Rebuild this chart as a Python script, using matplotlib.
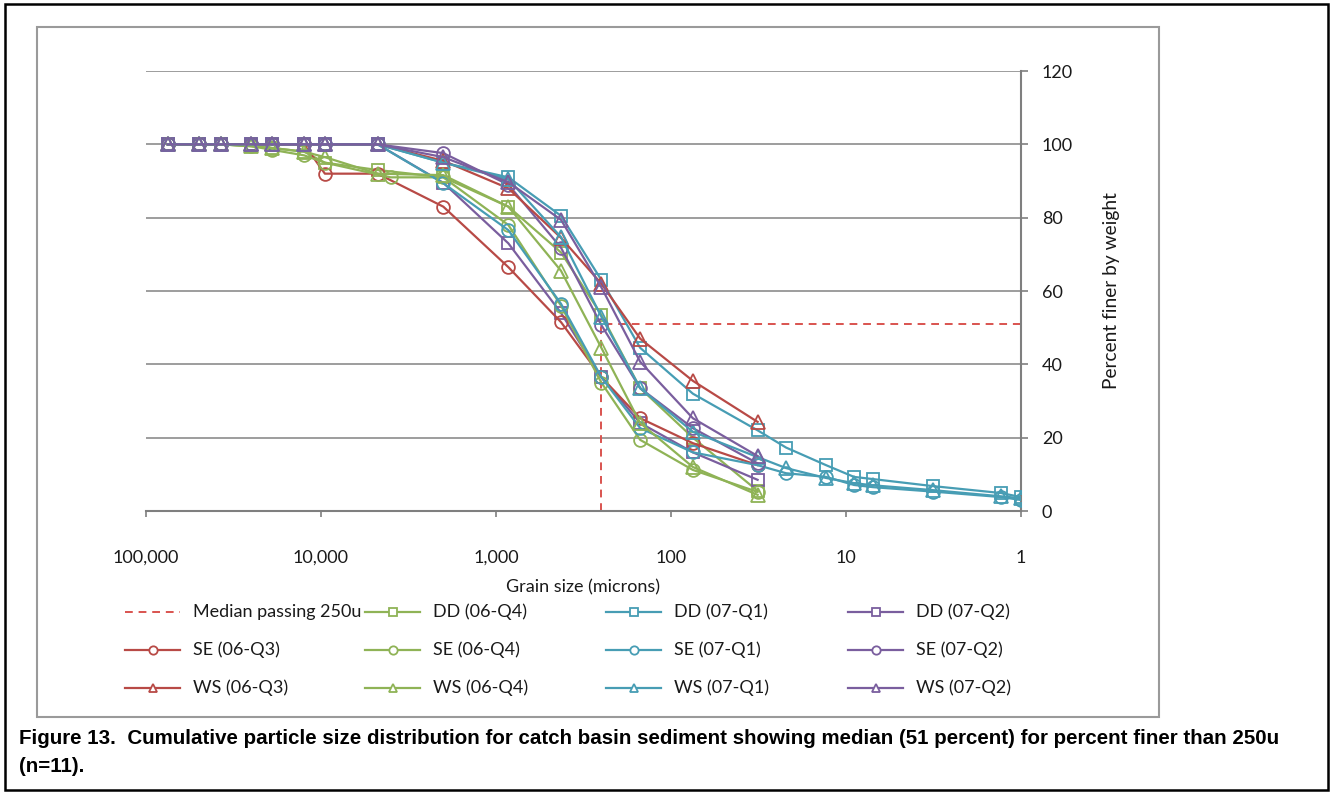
import matplotlib
matplotlib.use("Agg")
import matplotlib.pyplot as plt
from matplotlib.lines import Line2D
from matplotlib.patches import Rectangle
import matplotlib.ticker as ticker

plt.rcParams["font.family"] = ["Lato", "DejaVu Sans"]

W, H = 1334, 793

# ──────────────────────────────────────────────
# data (grain size in microns, percent finer by weight)
# ──────────────────────────────────────────────
SIEVE = [75000, 50000, 37500, 25000, 19000, 12500, 9500, 4750, 2000, 850, 425, 250, 150, 75, 32]
SIEVE_SE_06Q4 = [75000, 50000, 37500, 25000, 19000, 12500, 9500, 4000, 2000, 850, 425, 250, 150, 75, 32]
HYDRO = [22, 13, 9, 7, 3.2, 1.3, 1.0]

DD_06Q4 = [100, 100, 100, 99.5, 99, 98, 95, 93, 91, 83, 70.5, 53.5, 33.5, 20, 5.5]
DD_07Q1 = [100, 100, 100, 100, 100, 100, 100, 100, 95, 91, 80.5, 63, 44.5, 32, 22,
           17.3, 12.5, 9.3, 8.7, 6.8, 4.9, 3.8]
DD_07Q2 = [100, 100, 100, 100, 100, 100, 100, 100, 89.5, 73, 54, 36.5, 24, 16, 8.5]

SE_06Q3 = [100, 100, 100, 100, 100, 100, 92, 92, 83, 66.5, 51.5, 36.5, 25.3, 18.5, 12.5]
SE_06Q4 = [100, 100, 100, 99.5, 98.5, 97, 95, 91, 91, 78, 56, 35, 19.4, 11.2, 5.2]
SE_07Q1 = [100, 100, 100, 100, 100, 100, 100, 100, 89.4, 76.6, 56.5, 36.5, 22.6, 16, 12.5,
           10.3, 9.3, 7.1, 6.5, 5.3, 3.8, 3.0]
SE_07Q2 = [100, 100, 100, 100, 100, 100, 100, 100, 97.6, 89, 71.8, 50.7, 33.5, 22.6, 13]

WS_06Q3 = [100, 100, 100, 100, 100, 100, 100, 100, 95.5, 88, 74.5, 62, 47, 35.5, 24.3]
WS_06Q4 = [100, 100, 100, 99.5, 99, 98, 96.5, 92, 91.6, 83, 65.5, 44.5, 24, 12, 4.4]
WS_07Q1 = [100, 100, 100, 100, 100, 100, 100, 100, 95, 90.5, 74.7, 53, 33.5, 21.6, 14.7,
           11.7, 9.0, 7.6, 7.0, 5.7, 4.0, 3.5]
WS_07Q2 = [100, 100, 100, 100, 100, 100, 100, 100, 96.5, 89.7, 79.4, 61, 40.7, 25.3, 15]

MEDIAN_SIZE = 250
MEDIAN_PCT = 51

X_TICKS = [100000, 10000, 1000, 100, 10, 1]
X_TICK_LABELS = ["100,000", "10,000", "1,000", "100", "10", "1"]
Y_TICKS = [0, 20, 40, 60, 80, 100, 120]

# Excel 2007 style colours
RED = "#B84A46"
GREEN = "#8FB356"
TEAL = "#479DB4"
PURPLE = "#7A5E9E"
TEXT = "#1a1a1a"
GRID = "#8c8c8c"

SERIES = [
    ("DD (06-Q4)", SIEVE, DD_06Q4, GREEN, "s"),
    ("DD (07-Q1)", SIEVE + HYDRO, DD_07Q1, TEAL, "s"),
    ("DD (07-Q2)", SIEVE, DD_07Q2, PURPLE, "s"),
    ("SE (06-Q3)", SIEVE, SE_06Q3, RED, "o"),
    ("SE (06-Q4)", SIEVE_SE_06Q4, SE_06Q4, GREEN, "o"),
    ("SE (07-Q1)", SIEVE + HYDRO, SE_07Q1, TEAL, "o"),
    ("SE (07-Q2)", SIEVE, SE_07Q2, PURPLE, "o"),
    ("WS (06-Q3)", SIEVE, WS_06Q3, RED, "^"),
    ("WS (06-Q4)", SIEVE, WS_06Q4, GREEN, "^"),
    ("WS (07-Q1)", SIEVE + HYDRO, WS_07Q1, TEAL, "^"),
    ("WS (07-Q2)", SIEVE, WS_07Q2, PURPLE, "^"),
]
MARKER_SIZE = {"s": 8.5, "o": 9.2, "^": 9.5}


def fx(px):
    return px / W


def fy(py):
    return 1 - py / H


fig = plt.figure(figsize=(W / 100, H / 100), dpi=100, facecolor="white")
ax = fig.add_axes([fx(146), fy(511), fx(1021) - fx(146), fy(71) - fy(511)])

# median line (vertical to the curve, then across to the right edge)
ax.plot([MEDIAN_SIZE, MEDIAN_SIZE, X_TICKS[-1]], [0, MEDIAN_PCT, MEDIAN_PCT],
        color="#D9534F", lw=1.4, ls=(0, (4, 3)), zorder=2)

for label, xs, ys, color, mk in SERIES:
    ax.plot(xs, ys, color=color, lw=1.6, marker=mk, ms=MARKER_SIZE[mk],
            markerfacecolor="none", markeredgecolor=color, markeredgewidth=1.3, zorder=3)

ax.set_xscale("log")
ax.set_xlim(100000, 1)
ax.set_ylim(0, 120)
ax.xaxis.set_major_locator(ticker.FixedLocator(X_TICKS))
ax.xaxis.set_major_formatter(ticker.FixedFormatter(X_TICK_LABELS))
ax.xaxis.set_minor_locator(ticker.NullLocator())
ax.set_yticks(Y_TICKS)

ax.yaxis.tick_right()
ax.yaxis.set_label_position("right")
ax.grid(axis="y", color=GRID, lw=1.2, zorder=0)
ax.set_axisbelow(True)

for side in ("left", "top"):
    ax.spines[side].set_visible(False)
ax.spines["right"].set_color("#7f7f7f")
ax.spines["right"].set_linewidth(1.5)
ax.spines["bottom"].set_color("#7f7f7f")
ax.spines["bottom"].set_linewidth(1.5)

ax.tick_params(axis="x", direction="out", length=4, width=1.2, color="#7f7f7f",
               pad=24, labelsize=13, labelcolor=TEXT)
ax.tick_params(axis="y", direction="out", length=5, width=1.2, color="#7f7f7f",
               pad=10, labelsize=13, labelcolor=TEXT)

ax.set_xlabel("Grain size (microns)", fontsize=13, color=TEXT)
ax.xaxis.set_label_coords(0.5, -0.155)
ax.set_ylabel("Percent finer by weight", fontsize=13.8, color=TEXT, rotation=90)
ax.yaxis.set_label_coords(1.094, 0.5)

# legend, laid out like the Excel one (fixed column slots, row-wise order)
legend_entries = [("Median passing 250u", None, "#D9534F", None)] + \
    [(lbl, None, c, m) for lbl, _, _, c, m in SERIES]
col_x = [125, 365, 606, 848]
row_y = [612, 650, 688]
for i, (lbl, _, color, mk) in enumerate(legend_entries):
    r, c = divmod(i, 4)
    x0, y0 = col_x[c], row_y[r]
    if mk is None:
        fig.add_artist(Line2D([fx(x0), fx(x0 + 55)], [fy(y0), fy(y0)],
                              color=color, lw=1.4, ls=(0, (4, 3))))
    else:
        fig.add_artist(Line2D([fx(x0), fx(x0 + 55)], [fy(y0), fy(y0)],
                              color=color, lw=1.6))
        fig.add_artist(Line2D([fx(x0 + 27.5)], [fy(y0)], color=color, marker=mk,
                              ms=6, markerfacecolor="white", markeredgecolor=color,
                              markeredgewidth=1.3))
    fig.text(fx(x0 + 68), fy(y0), lbl, fontsize=13, color=TEXT, va="center", ha="left")

# chart area frame and page frame
fig.add_artist(Rectangle((fx(37), fy(717)), fx(1159) - fx(37), fy(27) - fy(717),
                         transform=fig.transFigure, fill=False, ec="#9a9a9a", lw=1.5))
fig.add_artist(Rectangle((fx(5), fy(790)), fx(1328) - fx(5), fy(4) - fy(790),
                         transform=fig.transFigure, fill=False, ec="black", lw=1.8))

caption = ("Figure 13.  Cumulative particle size distribution for catch basin sediment "
           "showing median (51 percent) for percent finer than 250u")
fig.text(fx(19), fy(738), caption, fontsize=14.8, fontweight="bold", color="black",
         family=["Liberation Sans", "DejaVu Sans"], va="center", ha="left")
fig.text(fx(19), fy(766), "(n=11).", fontsize=14.8, fontweight="bold", color="black",
         family=["Liberation Sans", "DejaVu Sans"], va="center", ha="left")

fig.savefig("out.png", dpi=100, facecolor="white")
